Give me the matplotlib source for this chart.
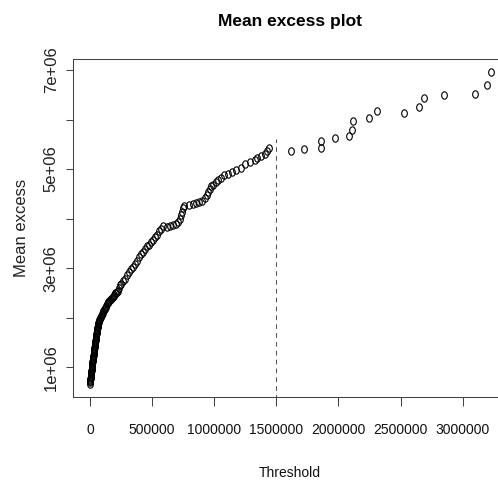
import numpy as np
import matplotlib
matplotlib.use("Agg")
import matplotlib.pyplot as plt
from matplotlib.path import Path
from matplotlib.transforms import Affine2D

plt.rcParams['font.family'] = ['Liberation Sans', 'DejaVu Sans']

# mean excess points (threshold, mean excess)
thr_low = [0, 1000, 1800, 2700, 3600, 4500, 5400, 6300, 7200, 8050,
           9800, 11600, 13400, 14300, 15200, 16100, 17000, 17900, 18800, 19700,
           20600, 21500, 23300, 25000, 26800, 27700, 28600, 29500, 30400, 31300,
           32200, 34000, 35800, 37600, 38500, 39400, 40250, 42000, 43800, 45600,
           46500, 47400, 48300, 50100, 51900, 53700, 54600, 55500, 56350, 58100,
           59900, 61700, 63500, 65300, 67100, 69800, 72400, 75100, 78700, 82300,
           85900, 90400, 94800, 99300, 103800, 108200, 112700, 117100, 121600, 126100,
           131500, 136800, 142200, 148500, 154700, 161000, 168200, 175300, 182500, 189600,
           196800, 203900, 211100, 218200, 225400, 231000]
me_low = [660000, 700000, 722000, 744000, 766000, 788000, 810000, 833000, 856000, 879000,
          901000, 923000, 945000, 968000, 990000, 1012000, 1035000, 1058000, 1080000, 1103000,
          1125000, 1147000, 1170000, 1192000, 1214000, 1236000, 1258000, 1280000, 1303000, 1326000,
          1349000, 1371000, 1393000, 1416000, 1439000, 1461000, 1484000, 1506000, 1528000, 1551000,
          1573000, 1595000, 1618000, 1641000, 1663000, 1686000, 1708000, 1730000, 1752000, 1775000,
          1797000, 1820000, 1843000, 1865000, 1888000, 1910000, 1932000, 1955000, 1977000, 1999000,
          2021000, 2040000, 2058000, 2076000, 2103000, 2130000, 2156000, 2178000, 2200000, 2223000,
          2246000, 2268000, 2291000, 2313000, 2336000, 2358000, 2380000, 2403000, 2425000, 2447000,
          2468000, 2490000, 2509000, 2528000, 2546000, 2598000]

thr_mid = [237500, 249500, 265600, 281700, 297800, 313900, 330000, 346100, 362200, 378300,
           394400, 410500, 426600, 442700, 458800, 474900, 491000, 507100, 523200, 539300,
           555400, 571500, 587600, 619800, 644000, 668100, 692300, 708400, 720500, 728500,
           736600, 744600, 756700, 797000, 829100, 853300, 877400, 901600, 921700, 937800,
           949900, 962000, 974000, 990100, 1010300, 1030400, 1054500, 1078700, 1110900, 1143100,
           1175300, 1211500, 1247700, 1288000, 1324200, 1344300, 1376500, 1408700, 1424800, 1440900]
me_mid = [2651000, 2691000, 2742000, 2792000, 2853000, 2923000, 2984000, 3034000, 3085000, 3145000,
          3226000, 3287000, 3327000, 3387000, 3438000, 3478000, 3519000, 3569000, 3630000, 3680000,
          3741000, 3801000, 3852000, 3831000, 3842000, 3862000, 3892000, 3932000, 3993000, 4064000,
          4134000, 4205000, 4255000, 4270000, 4286000, 4306000, 4336000, 4366000, 4417000, 4477000,
          4538000, 4598000, 4649000, 4689000, 4730000, 4780000, 4830000, 4871000, 4911000, 4941000,
          4972000, 5032000, 5103000, 5153000, 5184000, 5234000, 5274000, 5305000, 5365000, 5426000]

thr_tail = [1615600, 1720300, 1859500, 1859500, 1972200, 2087400, 2106700, 2117100, 2245900,
            2307900, 2525300, 2650900, 2688700, 2852100, 3099200, 3193400, 3225600]
me_tail = [5371000, 5410000, 5567000, 5420000, 5622000, 5662000, 5795000, 5971000, 6037000,
           6173000, 6138000, 6253000, 6435000, 6502000, 6516000, 6697000, 6964000]

u_line = 1500000
u_line_top = 5600000

x_ticks = [0, 500000, 1000000, 1500000, 2000000, 2500000, 3000000]
y_ticks = [1e6, 2e6, 3e6, 4e6, 5e6, 6e6, 7e6]
y_labels = ['1e+06', '', '3e+06', '', '5e+06', '', '7e+06']

thr = np.array(thr_low + thr_mid + thr_tail)
me = np.array(me_low + me_mid + me_tail)

# R png was stretched vertically, so the open circles look like tall ovals
oval = Path.unit_circle().transformed(Affine2D().scale(1, 1.3))

W, H = 498, 482
fig = plt.figure(figsize=(W / 100, H / 100), dpi=100)
ax = fig.add_axes([73.3 / W, 1 - 396.7 / H, (506.7 - 73.3) / W, (396.7 - 59.3) / H])

ax.plot(thr, me, linestyle='none', marker=oval, ms=5.3, mfc='none', mec='black', mew=0.8)
ax.vlines(u_line, 0, u_line_top, colors='#555555', linewidth=0.75, linestyles=(0, (4.5, 4)))

ax.set_xlim(-134400, 3354000)
ax.set_ylim(406650, 7216000)

for s in ax.spines.values():
    s.set_color('#444444')
    s.set_linewidth(0.75)

ax.set_xticks(x_ticks)
ax.set_xticklabels([str(v) for v in x_ticks])
ax.set_yticks(y_ticks)
ax.set_yticklabels(y_labels)
ax.tick_params(axis='x', length=6.8, width=0.75, color='#444444', pad=20.4, labelsize=10, labelcolor='#111111')
ax.tick_params(axis='y', length=5, width=0.75, color='#444444', pad=5.5, labelsize=12,
               labelcolor='#222222', labelrotation=90)
for lab in ax.get_xticklabels():
    lab.set_va('baseline')
for lab in ax.get_yticklabels():
    lab.set_va('center')

fig.text(290 / W, 1 - 26 / H, 'Mean excess plot', ha='center', va='baseline',
         fontsize=12.5, fontweight='bold')
fig.text(290 / W, 1 - 476.7 / H, 'Threshold', ha='center', va='baseline', fontsize=10, color='#111111')
fig.text(25.5 / W, 1 - 228 / H, 'Mean excess', rotation=90, rotation_mode='anchor',
         ha='center', va='baseline', fontsize=12, color='#222222')

fig.savefig('out.png', dpi=100)
